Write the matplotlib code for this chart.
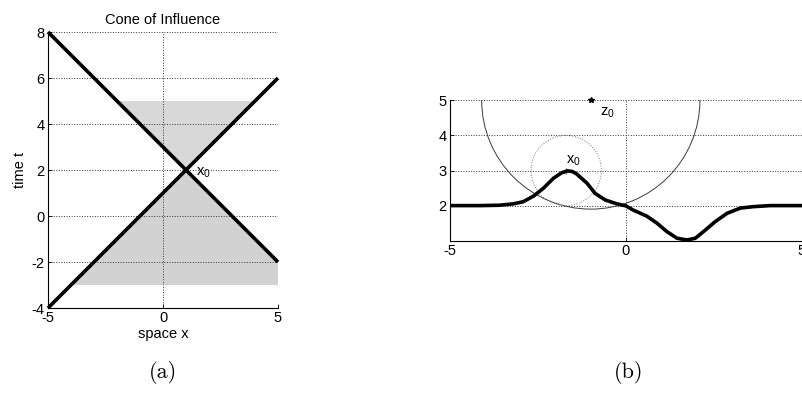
import matplotlib
matplotlib.use("Agg")
import matplotlib.pyplot as plt
from matplotlib.patches import Circle

plt.rcParams['font.family'] = ['Liberation Sans', 'DejaVu Sans']
plt.rcParams['mathtext.fontset'] = 'custom'
plt.rcParams['mathtext.rm'] = 'Liberation Sans'
plt.rcParams['mathtext.it'] = 'Liberation Sans'
plt.rcParams['axes.unicode_minus'] = False

# ---- panel (a) data ----
cone_x = [-5, 5]
line_down_t = [8, -2]
line_up_t = [-4, 6]
upper_shade_x = [-2, 4, 1]
upper_shade_t = [5, 5, 2]
lower_shade_x = [1, -4, 5, 5]
lower_shade_t = [2, -3, -3, -2]
a_xticks = [-5, 0, 5]
a_yticks = [-4, -2, 0, 2, 4, 6, 8]
x0_point = (1, 2)

# ---- panel (b) data ----
signal_x = [-5.0, -4.15, -3.6, -3.2, -2.92, -2.63, -2.35, -2.06, -1.82, -1.66,
            -1.52, -1.40, -1.11, -0.88, -0.59, -0.26, 0.0, 0.21, 0.59, 0.88,
            1.16, 1.45, 1.73, 1.97, 2.25, 2.53, 2.87, 3.25, 3.62, 4.10, 5.0]
signal_y = [2.0, 2.0, 2.01, 2.05, 2.11, 2.27, 2.49, 2.78, 2.94, 2.99,
            2.97, 2.90, 2.64, 2.35, 2.16, 2.05, 1.99, 1.87, 1.70, 1.50,
            1.26, 1.07, 1.02, 1.07, 1.30, 1.54, 1.78, 1.93, 1.97, 2.0, 2.0]
z0 = (-1.0, 5.0)
big_radius = 3.1
x0b = (-1.7, 3.0)
small_radius = 1.0
b_xticks = [-5, 0, 5]
b_yticks = [2, 3, 4, 5]

FS = 10.5

fig = plt.figure(figsize=(8.02, 4.01), dpi=100)

def style(ax):
    for s in ['top', 'right']:
        ax.spines[s].set_visible(False)
    for s in ['left', 'bottom']:
        ax.spines[s].set_linewidth(0.8)
    ax.tick_params(direction='in', length=3, width=0.6, labelsize=FS, pad=2.5)
    ax.grid(True, linestyle=':', color='#333333', linewidth=0.7)

# Panel (a)
ax1 = fig.add_axes([48/802, 93/401, 230/802, 276/401])
ax1.fill(upper_shade_x, upper_shade_t, facecolor='#d8d8d8', edgecolor='none', zorder=0.5)
ax1.fill(lower_shade_x, lower_shade_t, facecolor='#d2d2d2', edgecolor='none', zorder=0.5)
ax1.plot(cone_x, line_down_t, color='black', lw=2.6, solid_capstyle='butt', clip_on=False)
ax1.plot(cone_x, line_up_t, color='black', lw=2.6, solid_capstyle='butt', clip_on=False)
ax1.set_xlim(-5, 5)
ax1.set_ylim(-4, 8)
ax1.set_xticks(a_xticks)
ax1.set_yticks(a_yticks)
style(ax1)
ax1.set_title('Cone of Influence', fontsize=FS, pad=6)
ax1.set_xlabel('space x', fontsize=FS, labelpad=1)
ax1.set_ylabel('time t', fontsize=FS, labelpad=3)
ax1.text(x0_point[0] + 0.45, x0_point[1] - 0.45, r'x$_{0}$', fontsize=FS, ha='left', va='bottom')

# Panel (b)
ax2 = fig.add_axes([450/802, 160.3/401, 352/802, 140.4/401])
ax2.add_patch(Circle(z0, big_radius, fill=False, edgecolor='#3a3a3a', lw=0.7, zorder=2))
ax2.add_patch(Circle(x0b, small_radius, fill=False, edgecolor='#777777', lw=0.7,
                     linestyle=':', zorder=2))
ax2.plot(signal_x, signal_y, color='black', lw=2.6, zorder=3)
ax2.plot([z0[0]], [z0[1]], marker='*', color='black', ms=4, clip_on=False, zorder=4)
ax2.plot([x0b[0]], [x0b[1]], marker='+', color='#777777', ms=4, zorder=2.5)
ax2.text(z0[0] + 0.27, z0[1] - 0.55, r'z$_{0}$', fontsize=FS, ha='left', va='bottom')
ax2.text(x0b[0] + 0.0, x0b[1] + 0.06, r'x$_{0}$', fontsize=FS, ha='left', va='bottom')
ax2.set_xlim(-5, 5)
ax2.set_ylim(1.0, 5)
ax2.set_xticks(b_xticks)
ax2.set_yticks(b_yticks)
style(ax2)

# Captions
fig.text(163/802, 1 - 372/401, '(a)', fontfamily='cmr10', fontsize=16, ha='center', va='center')
fig.text(629/802, 1 - 372/401, '(b)', fontfamily='cmr10', fontsize=16, ha='center', va='center')

fig.savefig('out.png', dpi=100)
